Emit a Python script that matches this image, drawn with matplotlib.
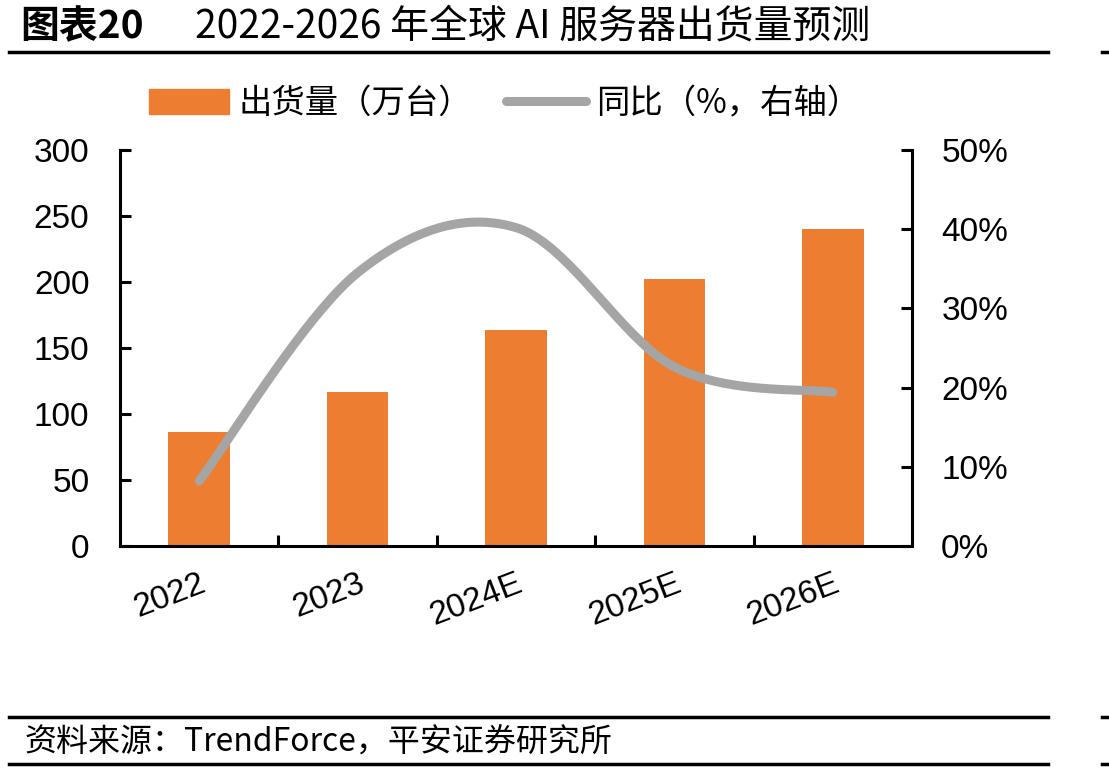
import numpy as np
import matplotlib
matplotlib.use('Agg')
import matplotlib.pyplot as plt
from matplotlib.lines import Line2D
from matplotlib.patches import Patch

# ---------------------------------------------------------------------------
# DATA
# ---------------------------------------------------------------------------
categories = ['2022', '2023', '2024E', '2025E', '2026E']
shipments = [86, 117, 164, 202, 240]          # 出货量（万台）
yoy = [8.2, 34.5, 40.2, 22.6, 19.4]           # 同比（%）

ORANGE = '#ED7D31'
GRAY = '#A5A5A5'

plt.rcParams['font.family'] = ['Liberation Sans', 'Noto Sans CJK SC', 'DejaVu Sans']
CJK = ['Noto Sans CJK SC', 'DejaVu Sans']


def smooth_curve(xs, ys, n=40):
    # Catmull-Rom style smoothing, like a spreadsheet "smoothed line"
    xs = np.asarray(xs, float)
    ys = np.asarray(ys, float)
    px = np.concatenate([[xs[0]], xs, [xs[-1]]])
    py = np.concatenate([[ys[0]], ys, [ys[-1]]])
    out_x, out_y = [], []
    for i in range(1, len(px) - 2):
        p0 = np.array([px[i], py[i]])
        p3 = np.array([px[i + 1], py[i + 1]])
        c1 = p0 + (np.array([px[i + 1], py[i + 1]]) - np.array([px[i - 1], py[i - 1]])) / 6
        c2 = p3 - (np.array([px[i + 2], py[i + 2]]) - np.array([px[i], py[i]])) / 6
        t = np.linspace(0, 1, n)[:, None]
        pts = ((1 - t) ** 3) * p0 + 3 * ((1 - t) ** 2) * t * c1 + 3 * (1 - t) * t ** 2 * c2 + t ** 3 * p3
        out_x.extend(pts[:, 0])
        out_y.extend(pts[:, 1])
    return out_x, out_y


fig = plt.figure(figsize=(11.09, 7.74), dpi=100)
ax = fig.add_axes([0.1082, 0.2946, 0.7142, 0.5116])
ax2 = ax.twinx()

x = np.arange(len(categories))
ax.bar(x, shipments, width=0.39, color=ORANGE, zorder=2)
sx, sy = smooth_curve(x, yoy)
ax2.plot(sx, sy, color=GRAY, lw=6.5, solid_capstyle='round', zorder=3)

ax.set_xlim(-0.5, len(categories) - 0.5)
ax.set_ylim(0, 300)
ax.set_yticks(range(0, 301, 50))
ax2.set_ylim(0, 50)
ax2.set_yticks(range(0, 51, 10))
ax2.set_yticklabels([f'{v}%' for v in range(0, 51, 10)])

for a in (ax, ax2):
    for s in a.spines.values():
        s.set_linewidth(2.2)
    a.spines['top'].set_visible(False)
ax.spines['right'].set_visible(False)
ax2.spines['left'].set_visible(False)
ax2.spines['bottom'].set_visible(False)

ax.tick_params(axis='y', direction='in', length=8, width=2.2, labelsize=24, pad=22)
ax2.tick_params(axis='y', direction='in', length=8, width=2.2, labelsize=24, pad=21)

ax.set_xticks(x)
ax.set_xticklabels(categories, rotation=21, ha='right', rotation_mode='anchor')
ax.tick_params(axis='x', which='major', length=0, labelsize=24, pad=16)
ax.set_xticks(np.arange(0.5, len(categories) - 1, 1), minor=True)
ax.tick_params(axis='x', which='minor', direction='in', length=8, width=2.2)

# legend
handles = [Patch(color=ORANGE), Line2D([], [], color=GRAY, lw=6.5, solid_capstyle='round')]
leg = fig.legend(handles, ['出货量（万台）', '同比（%，右轴）'], loc='center',
                 bbox_to_anchor=(0.455, 0.866), ncol=2, frameon=False,
                 prop={'family': CJK, 'size': 24}, handlelength=2.4, handleheight=0.8,
                 columnspacing=1.0, handletextpad=0.3)

# title and source
fig.text(0.018, 0.966, '图表20', fontsize=28, fontweight='bold', family=CJK, va='center')
fig.text(0.176, 0.966, '2022-2026 年全球 AI 服务器出货量预测', fontsize=28, family=CJK, va='center')
for yy in (0.933, 0.074, 0.013):
    fig.add_artist(Line2D([0.008, 0.945], [yy, yy], color='black', lw=2.5))
    fig.add_artist(Line2D([0.994, 1.0], [yy, yy], color='black', lw=2.5))
fig.text(0.022, 0.041, '资料来源：TrendForce，平安证券研究所', fontsize=23, family=CJK,
         style='italic', va='center')

fig.savefig('out.png', dpi=100)
